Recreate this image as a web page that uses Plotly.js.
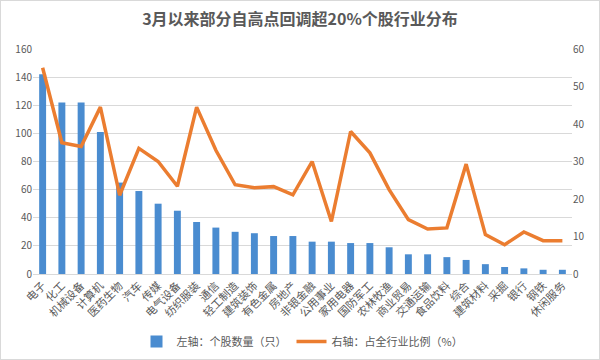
<!DOCTYPE html>
<html>
<head>
<meta charset="utf-8">
<script src="https://cdn.plot.ly/plotly-3.0.1.min.js"></script>
<style>
html,body{margin:0;padding:0;background:#fff;}
#chart{width:600px;height:360px;box-sizing:border-box;border:1px solid #d9d9d9;}
</style>
</head>
<body>
<div id="chart"></div>
<script>
const categories = ["电子","化工","机械设备","计算机","医药生物","汽车","传媒","电气设备","纺织服装","通信","轻工制造","建筑装饰","有色金属","房地产","非银金融","公用事业","家用电器","国防军工","农林牧渔","商业贸易","交通运输","食品饮料","综合","建筑材料","采掘","银行","钢铁","休闲服务"];
const stockCounts = [142,122,122,101,65,59,50,45,37,33,30,29,27,27,23,23,22,22,19,14,14,12,10,7,5,4,3,3];
const industryRatio = [55,35,34,44.5,21,33.5,30,23.4,44.5,33,23.8,23,23.3,21.1,30,14,38,32.3,22.5,14.5,12,12.3,29.3,10.5,7.8,11.2,8.9,8.9];

const txt = '#595959';
const cjk = '"Noto Sans CJK SC", "Noto Sans", sans-serif';

const traces = [
  {
    type: 'bar', x: categories, y: stockCounts, name: '左轴：个股数量（只）',
    marker: {color: '#4a8cd0', line: {width: 0}}, yaxis: 'y'
  },
  {
    type: 'scatter', mode: 'lines', x: categories, y: industryRatio, name: '右轴：占全行业比例（%）',
    line: {color: '#eb7d30', width: 3.5}, yaxis: 'y2'
  }
];

const layout = {
  width: 598, height: 358,
  margin: {l: 32, r: 27, t: 48, b: 85, autoexpand: false},
  paper_bgcolor: '#fff', plot_bgcolor: '#fff',
  font: {family: cjk, color: txt, size: 11},
  title: {text: '<b>3月以来部分自高点回调超20%个股行业分布</b>', x: 0.5, xanchor: 'center', y: 0.95, yanchor: 'middle', font: {size: 16, color: txt, family: cjk}},
  bargap: 0.64,
  showlegend: true,
  legend: {orientation: 'h', x: 0.5, xanchor: 'center', y: -0.30, yanchor: 'middle', font: {size: 11, color: txt, family: cjk}},
  xaxis: {
    automargin: false,
    tickangle: -45, tickfont: {size: 11, color: txt, family: cjk},
    showline: true, linecolor: '#d9d9d9', linewidth: 1, ticks: '', showgrid: false
  },
  yaxis: {
    automargin: false,
    range: [0, 160], dtick: 20, tickfont: {size: 10, color: txt},
    showgrid: true, gridcolor: '#d9d9d9', zeroline: false, showline: false, ticks: ''
  },
  yaxis2: {
    automargin: false,
    range: [0, 60], dtick: 10, overlaying: 'y', side: 'right', tickfont: {size: 10, color: txt},
    showgrid: false, zeroline: false, showline: false, ticks: ''
  }
};

Plotly.newPlot('chart', traces, layout, {displayModeBar: false, staticPlot: true});
</script>
</body>
</html>
